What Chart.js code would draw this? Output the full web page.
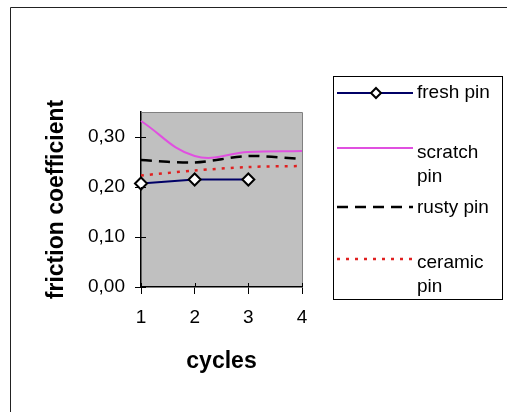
<!DOCTYPE html>
<html>
<head>
<meta charset="utf-8">
<script src="https://cdn.jsdelivr.net/npm/chart.js@4/dist/chart.umd.min.js"></script>
<style>
  html, body { margin: 0; padding: 0; background: #fff; }
  #wrap { position: relative; width: 507px; height: 412px; }
  canvas { display: block; }
</style>
</head>
<body>
<div id="wrap"><canvas id="c" width="507" height="412"></canvas></div>
<script>
const categories = ['1', '2', '3', '4'];
const yTickValues = [0, 0.1, 0.2, 0.3];
const yTickLabels = ['0,00', '0,10', '0,20', '0,30'];
const seriesNames = ['fresh pin', 'scratch pin', 'rusty pin', 'ceramic pin'];
const legendLabels = [['fresh pin'], ['scratch', 'pin'], ['rusty pin'], ['ceramic', 'pin']];
const freshPin = [0.207, 0.215, 0.215, null];
const scratchPin = [0.332, 0.262, 0.270, 0.272];
const rustyPin = [0.254, 0.249, 0.262, 0.256];
const ceramicPin = [0.223, 0.233, 0.240, 0.242];
const xTitle = 'cycles';
const yTitle = 'friction coefficient';

const FONT = "'Liberation Sans', Arial, sans-serif";

const frame = {
  id: 'frame',
  beforeDraw(chart) {
    const ctx = chart.ctx;
    ctx.save();
    ctx.fillStyle = '#fff';
    ctx.fillRect(0, 0, chart.width, chart.height);
    ctx.strokeStyle = '#222';
    ctx.lineWidth = 1;
    ctx.beginPath();
    ctx.moveTo(10.5, chart.height);
    ctx.lineTo(10.5, 7.5);
    ctx.lineTo(chart.width, 7.5);
    ctx.stroke();
    const a = chart.chartArea;
    ctx.fillStyle = '#c0c0c0';
    ctx.fillRect(a.left, a.top, a.right - a.left, a.bottom - a.top);
    ctx.restore();
  },
  afterDatasetsDraw(chart) {
    const ctx = chart.ctx;
    const a = chart.chartArea;
    ctx.save();
    ctx.strokeStyle = '#808080';
    ctx.lineWidth = 1;
    ctx.beginPath();
    ctx.moveTo(Math.round(a.left) + 0.5, Math.round(a.top) + 0.5);
    ctx.lineTo(Math.round(a.right) + 0.5, Math.round(a.top) + 0.5);
    ctx.lineTo(Math.round(a.right) + 0.5, Math.round(a.bottom) + 0.5);
    ctx.stroke();
    // inner halves of the crossing tick marks
    ctx.strokeStyle = '#000';
    ctx.beginPath();
    const ys = chart.scales.y, xs = chart.scales.x;
    yTickValues.forEach(v => {
      const py = Math.round(ys.getPixelForValue(v)) + 0.5;
      ctx.moveTo(a.left, py);
      ctx.lineTo(a.left + 5, py);
    });
    categories.forEach((c, i) => {
      const px = Math.round(xs.getPixelForValue(i)) + 0.5;
      ctx.moveTo(px, a.bottom);
      ctx.lineTo(px, a.bottom - 4);
    });
    ctx.stroke();
    ctx.restore();
  }
};

const customLegend = {
  id: 'customLegend',
  afterDraw(chart) {
    const ctx = chart.ctx;
    ctx.save();
    const bx = 333.5, by = 76.5, bw = 169, bh = 223;
    ctx.fillStyle = '#fff';
    ctx.fillRect(bx, by, bw, bh);
    ctx.strokeStyle = '#000';
    ctx.lineWidth = 1;
    ctx.strokeRect(bx, by, bw, bh);
    const lineY = [93, 148, 207, 259];
    const textY = [93, 153, 208, 263];
    const x0 = 337, x1 = 413, tx = 417;
    ctx.font = '19px ' + FONT;
    ctx.textBaseline = 'middle';
    ctx.textAlign = 'left';
    chart.data.datasets.forEach((ds, i) => {
      ctx.save();
      ctx.strokeStyle = ds.borderColor;
      ctx.lineWidth = ds.borderWidth;
      ctx.setLineDash(ds.borderDash || []);
      ctx.beginPath();
      ctx.moveTo(x0, lineY[i]);
      ctx.lineTo(x1, lineY[i]);
      ctx.stroke();
      ctx.restore();
      if (ds.pointRadius > 0) {
        const cx = (x0 + x1) / 2 + 1, cy = lineY[i], r = 5;
        ctx.save();
        ctx.fillStyle = ds.pointBackgroundColor;
        ctx.strokeStyle = ds.pointBorderColor;
        ctx.lineWidth = ds.pointBorderWidth;
        ctx.beginPath();
        ctx.moveTo(cx, cy - r);
        ctx.lineTo(cx + r, cy);
        ctx.lineTo(cx, cy + r);
        ctx.lineTo(cx - r, cy);
        ctx.closePath();
        ctx.fill();
        ctx.stroke();
        ctx.restore();
      }
      ctx.fillStyle = '#000';
      legendLabels[i].forEach((t, j) => {
        ctx.fillText(t, tx, textY[i] + j * 24);
      });
    });
    ctx.restore();
  }
};

new Chart(document.getElementById('c'), {
  type: 'line',
  data: {
    labels: categories,
    datasets: [
      {
        label: seriesNames[0], data: freshPin,
        borderColor: '#000066', borderWidth: 2, tension: 0,
        pointStyle: 'rectRot', pointRadius: 6, pointHoverRadius: 6,
        pointBackgroundColor: '#ffffff', pointBorderColor: '#000000', pointBorderWidth: 2
      },
      {
        label: seriesNames[1], data: scratchPin,
        borderColor: '#e050e0', borderWidth: 2, tension: 0.4, pointRadius: 0
      },
      {
        label: seriesNames[2], data: rustyPin,
        borderColor: '#000000', borderWidth: 2.5, borderDash: [11, 7], tension: 0.3, pointRadius: 0
      },
      {
        label: seriesNames[3], data: ceramicPin,
        borderColor: '#e02020', borderWidth: 2.5, borderDash: [3, 6], tension: 0.3, pointRadius: 0
      }
    ]
  },
  options: {
    responsive: false,
    animation: false,
    clip: false,
    layout: { padding: { left: 0, top: 112, right: 205, bottom: 0 } },
    plugins: { legend: { display: false }, tooltip: { enabled: false } },
    scales: {
      x: {
        type: 'category',
        offset: false,
        grid: { drawOnChartArea: false, drawTicks: true, tickLength: 7, color: '#000' },
        border: { color: '#000', width: 1.5 },
        ticks: { color: '#000', font: { family: FONT, size: 19 }, padding: 12, maxRotation: 0, autoSkip: false },
        title: { display: true, text: xTitle, color: '#000', font: { family: FONT, size: 23, weight: 'bold' }, padding: { top: 0, bottom: 37 } },
        afterFit(s) { s.height = 125; }
      },
      y: {
        min: 0, max: 0.35,
        afterBuildTicks(s) { s.ticks = yTickValues.map(v => ({ value: v })); },
        grid: { drawOnChartArea: false, drawTicks: true, tickLength: 6, color: '#000' },
        border: { color: '#000', width: 1.5 },
        ticks: {
          color: '#000', font: { family: FONT, size: 19 }, padding: 10,
          callback(v) { const i = yTickValues.findIndex(t => Math.abs(t - v) < 1e-9); return i >= 0 ? yTickLabels[i] : ''; }
        },
        title: { display: true, text: yTitle, color: '#000', font: { family: FONT, size: 23, weight: 'bold' }, padding: { top: 43, bottom: 0 } },
        afterFit(s) { s.width = 141; }
      }
    }
  },
  plugins: [frame, customLegend]
});
</script>
</body>
</html>
